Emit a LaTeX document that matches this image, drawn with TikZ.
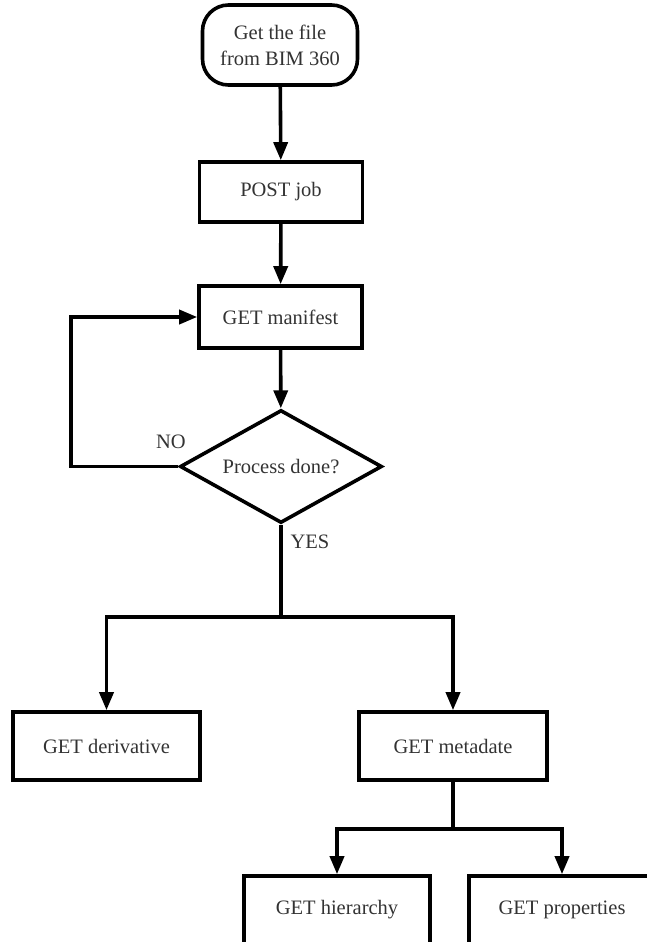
\documentclass[tikz,border=0pt]{standalone}
\usepackage{fontspec}
\setmainfont{Liberation Serif}
\usetikzlibrary{shapes.geometric,arrows.meta}
\begin{document}
\begin{tikzpicture}[x=1pt,y=-1pt,
  every node/.style={font=\fontsize{20.5}{26}\selectfont, text=black!80},
  line/.style={line width=3.6pt, draw=black},
  arr/.style={line, -{Triangle[length=18pt,width=14pt]}},
  procbox/.style={line, rectangle, inner sep=0pt, fill=white},
  startbox/.style={line, rectangle, rounded corners=26pt, inner sep=0pt,
    minimum width=155pt, minimum height=80pt, align=center, fill=white},
  decision/.style={line, diamond, inner sep=0pt, aspect=1.79,
    minimum width=202pt, minimum height=113pt, fill=white},
  lbl/.style={inner sep=0pt}
]
\useasboundingbox (0,0) rectangle (647,942);
\clip (0,0) rectangle (647,942);

% main column
\node[startbox] (start) at (280,45) {Get the file\\from BIM 360};
\node[procbox, minimum width=163pt, minimum height=60pt] (post) at (281,192) {POST job};
\node[procbox, minimum width=163pt, minimum height=62pt] (manifest) at (280.5,317) {GET manifest};
\node[decision] (done) at (281,466.5) {Process done?};

% outputs
\node[procbox, minimum width=187pt, minimum height=68pt] (deriv) at (106.5,746) {GET derivative};
\node[procbox, minimum width=188pt, minimum height=68pt] (meta) at (453,746) {GET metadate};
\node[procbox, minimum width=186pt, minimum height=68pt] (hier) at (337,910) {GET hierarchy};
\node[procbox, minimum width=186pt, minimum height=68pt] (props) at (562,910) {GET properties};

% branch points
\coordinate (split1) at (281,617);
\coordinate (split2) at (453,829);
\coordinate (loopbot) at (71,466.5);
\coordinate (looptop) at (71,317);

% connectors
\draw[arr] (start) -- (post);
\draw[arr] (post) -- (manifest);
\draw[arr] (manifest) -- (done);
\draw[arr] (done.west) -- (loopbot) -- (looptop) -- (manifest.west);
\draw[line] (done.south) -- (split1);
\draw[arr] (split1) -| (deriv.north);
\draw[arr] (split1) -| (meta.north);
\draw[line] (meta.south) -- (split2);
\draw[arr] (split2) -| (hier.north);
\draw[arr] (split2) -| (props.north);

% branch labels
\node[lbl] (no) at (171,442) {NO};
\node[lbl] (yes) at (310,542) {YES};
\end{tikzpicture}
\end{document}
